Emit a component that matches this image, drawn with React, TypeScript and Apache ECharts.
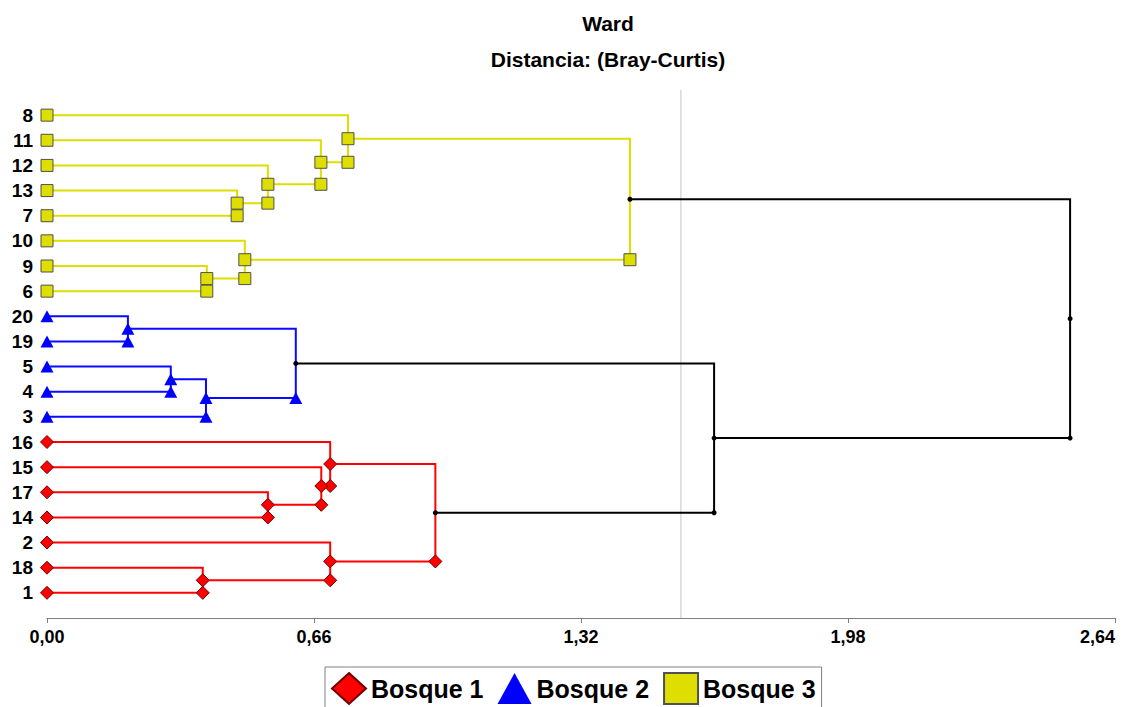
import React, { useEffect, useRef } from "react";
import * as echarts from "echarts";

// Leaves, top to bottom, and their group (1 = Bosque 1, 2 = Bosque 2, 3 = Bosque 3)
const leafNames = ["8", "11", "12", "13", "7", "10", "9", "6", "20", "19", "5", "4", "3", "16", "15", "17", "14", "2", "18", "1"];
const leafGroups = [3, 3, 3, 3, 3, 3, 3, 3, 2, 2, 2, 2, 2, 1, 1, 1, 1, 1, 1, 1];

// Merges: [upper child, lower child, height]; merge k creates node "n{k+1}"
const merges: [string, string, number][] = [
  ["13", "7", 0.47],
  ["12", "n1", 0.546],
  ["11", "n2", 0.677],
  ["8", "n3", 0.744],
  ["9", "6", 0.395],
  ["10", "n5", 0.489],
  ["n4", "n6", 1.441],
  ["20", "19", 0.2],
  ["5", "4", 0.306],
  ["n9", "3", 0.393],
  ["n8", "n10", 0.615],
  ["17", "14", 0.546],
  ["15", "n12", 0.678],
  ["16", "n13", 0.7],
  ["18", "1", 0.385],
  ["2", "n15", 0.7],
  ["n14", "n16", 0.96],
  ["n11", "n17", 1.649],
  ["n7", "n18", 2.529],
];

const groupNames = ["", "Bosque 1", "Bosque 2", "Bosque 3"];
const xMin = 0;
const xMax = 2.64;
const xInterval = 0.66;
const cutHeight = 1.567;

const lineColors = ["#000000", "#ff0000", "#0a0aff", "#dede00"];
const fillColors = ["#000000", "#ff0000", "#0000ff", "#dede00"];
const borderColors = ["#000000", "#6a0000", "#0000ff", "#505050"];
const symbols = ["circle", "diamond", "triangle", "rect"];
const symbolSizes: any[] = [5, 13, [13, 12], 12];
const FONT = "'Liberation Sans', Arial, sans-serif";

export default function App() {
  const ref = useRef<HTMLDivElement>(null);
  useEffect(() => {
    if (!ref.current) return;
    const chart = echarts.init(ref.current, null, { renderer: "svg" });

    type Node = { x: number; y: number; g: number };
    const nodes: Record<string, Node> = {};
    leafNames.forEach((n, i) => (nodes[n] = { x: 0, y: i, g: leafGroups[i] }));
    const parentOf: Record<string, string> = {};
    const segs: any[] = [
      { coords: [[cutHeight, -1], [cutHeight, 20]], lineStyle: { color: "#c4c4c4", width: 1, opacity: 1 } },
    ];
    const markers: number[][][] = [[], [], [], []];
    merges.forEach(([a, b, h], k) => {
      const id = "n" + (k + 1);
      const A = nodes[a];
      const B = nodes[b];
      const g = A.g === B.g ? A.g : 0;
      nodes[id] = { x: h, y: (A.y + B.y) / 2, g };
      parentOf[a] = id;
      parentOf[b] = id;
      segs.push({
        coords: [[A.x, A.y], [h, A.y], [h, B.y], [B.x, B.y]],
        lineStyle: { color: lineColors[g], width: 2, opacity: 1 },
      });
      markers[g].push([h, B.y]);
    });
    merges.forEach((_, k) => {
      const id = "n" + (k + 1);
      const p = parentOf[id];
      const g = p ? nodes[p].g : 0;
      markers[g].push([nodes[id].x, nodes[id].y]);
    });

    const markerSeries = markers.map((pts, g) => ({
      type: "scatter",
      name: "m" + g,
      data: pts,
      symbol: symbols[g],
      symbolSize: symbolSizes[g],
      clip: false,
      z: 4,
      itemStyle: {
        color: fillColors[g],
        borderColor: borderColors[g],
        borderWidth: g === 0 || g === 2 ? 0 : 1,
        opacity: 1,
      },
    }));

    const leafSeries = [1, 2, 3].map((g) => ({
      type: "scatter",
      name: groupNames[g],
      data: leafNames.map((_, i) => i).filter((i) => leafGroups[i] === g).map((i) => [0, i]),
      symbol: symbols[g],
      symbolSize: symbolSizes[g],
      clip: false,
      z: 5,
      itemStyle: {
        color: fillColors[g],
        borderColor: borderColors[g],
        borderWidth: g === 2 ? 0 : 1,
        opacity: 1,
      },
    }));

    chart.setOption({
      animation: false,
      backgroundColor: "#ffffff",
      title: [
        {
          text: "Ward",
          left: 603,
          top: 8,
          textAlign: "center",
          textStyle: { fontFamily: FONT, fontWeight: "bold", fontSize: 21, color: "#000" },
        },
        {
          text: "Distancia: (Bray-Curtis)",
          left: 603,
          top: 44,
          textAlign: "center",
          textStyle: { fontFamily: FONT, fontWeight: "bold", fontSize: 21, color: "#000" },
        },
      ],
      legend: {
        data: groupNames.slice(1),
        left: 325,
        top: 667,
        padding: [5, 6, 10, 6],
        borderColor: "#808080",
        borderWidth: 1,
        itemWidth: 34,
        itemHeight: 31,
        itemGap: 14,
        symbolKeepAspect: false,
        textStyle: { fontFamily: FONT, fontWeight: "bold", fontSize: 25, color: "#000" },
      },
      grid: { left: 47, right: 11, top: 90, bottom: 89, containLabel: false, outerBoundsMode: "none" },
      xAxis: {
        type: "value",
        position: "bottom",
        min: xMin,
        max: xMax,
        interval: xInterval,
        axisLine: { onZero: false, lineStyle: { color: "#7f7f7f", width: 1 } },
        axisTick: { length: 5, lineStyle: { color: "#7f7f7f" } },
        splitLine: { show: false },
        axisLabel: {
          formatter: (v: number) => v.toFixed(2).replace(".", ","),
          fontFamily: FONT,
          fontWeight: "bold",
          fontSize: 18,
          color: "#000",
          margin: 10,
          alignMaxLabel: "right",
        },
      },
      yAxis: {
        type: "value",
        inverse: true,
        min: -1,
        max: 20,
        interval: 1,
        axisLine: { show: false },
        axisTick: { show: false },
        splitLine: { show: false },
        axisLabel: {
          formatter: (v: number) => leafNames[Math.round(v)] ?? "",
          fontFamily: FONT,
          fontWeight: "bold",
          fontSize: 19,
          color: "#000",
          margin: 14,
        },
      },
      series: [
        {
          type: "lines",
          coordinateSystem: "cartesian2d",
          polyline: true,
          data: segs,
          z: 2,
          lineStyle: { width: 2, opacity: 1 },
          silent: true,
        },
        ...markerSeries,
        ...leafSeries,
      ],
    });
    return () => chart.dispose();
  }, []);
  return <div ref={ref} style={{ position: "fixed", left: 0, top: 0, width: 1126, height: 707 }} />;
}
